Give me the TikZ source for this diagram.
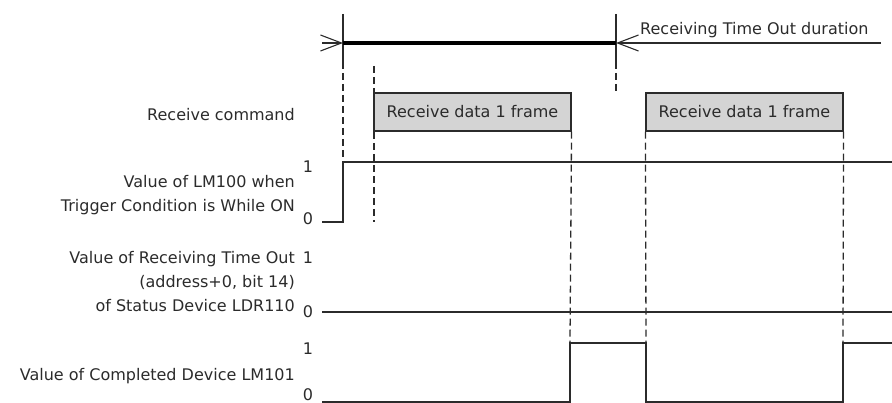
\documentclass[tikz,border=0pt]{standalone}
\usepackage{fontspec}
\setmainfont{DejaVu Sans}
\usetikzlibrary{arrows.meta,positioning}
\definecolor{inkgray}{HTML}{2B2B2B}
\definecolor{boxgray}{HTML}{D4D4D4}
\tikzset{
  td/text/.style={font=\fontsize{16}{24}\selectfont, text=inkgray},
  td/name/.style={td/text, anchor=east, align=right, inner sep=0pt},
  td/level/.style={td/text, inner sep=0pt},
  td/frame/.style={td/text, draw=inkgray, line width=1.1pt, fill=boxgray, minimum width=197pt, minimum height=38pt, inner sep=0pt},
  td/signal/.style={draw=inkgray, line width=2.8pt, line join=miter},
  td/flat/.style={draw=inkgray, line width=2.4pt},
  td/guide/.style={draw=inkgray, line width=1.3pt, dash pattern=on 7pt off 4pt},
  td/dim/.style={draw=inkgray, line width=1.1pt},
  td/tip/.style={-{Straight Barb[length=21pt, width=16pt, line width=1.1pt]}}
}
\begin{document}
\begin{tikzpicture}[x=1pt, y=-1pt]
  \useasboundingbox (0,0) rectangle (892,403);

  % receiving time out span
  \coordinate (start) at (343,43);
  \coordinate (limit) at (616,43);
  \draw[td/dim] (343,14) -- (343,62);
  \draw[td/dim] (616,14) -- (616,62);
  \draw[td/dim, td/tip] (322,43) -- (start);
  \draw[td/dim, td/tip] (881,43) -- (limit);
  \draw[draw=black, line width=4.8pt] (start) -- (limit);
  \node[td/text, anchor=south west, inner sep=0pt] (timeout) at (640,38) {Receiving Time Out duration};

  % receive command
  \node[td/name] (cmd) at (295,115) {Receive command};
  \node[td/frame] (frameA) at (472.5,112) {Receive data 1 frame};
  \node[td/frame] (frameB) at (744.5,112) {Receive data 1 frame};

  % signal names and levels
  \node[td/name] (lm100) at (295,195) {Value of LM100 when\\Trigger Condition is While ON};
  \node[td/level] (lm100hi) at (308,167) {1};
  \node[td/level] (lm100lo) at (308,219) {0};
  \node[td/name] (ldr110) at (295,282) {Value of Receiving Time Out\\(address+0, bit 14)\\of Status Device LDR110};
  \node[td/level] (ldr110hi) at (308,258) {1};
  \node[td/level] (ldr110lo) at (308,312) {0};
  \node[td/name] (lm101) at (295,376) {Value of Completed Device LM101};
  \node[td/level] (lm101hi) at (308,349) {1};
  \node[td/level] (lm101lo) at (308,395) {0};

  % guides
  \draw[td/guide] (343,62) -- (343,160);
  \draw[td/guide] (374,66) -- (374,222);
  \draw[td/guide] (616,62) -- (616,94);
  \draw[td/guide] (frameA.south east) -- (570,343);
  \draw[td/guide] (frameB.south west) -- (646,343);
  \draw[td/guide] (frameB.south east) -- (843,343);

  % waveforms
  \draw[td/signal] (322,222) -- (343,222) -- (343,162) -- (892,162);
  \draw[td/flat] (322,312) -- (892,312);
  \draw[td/signal] (322,402) -- (570,402) -- (570,343) -- (646,343)
    -- (646,402) -- (843,402) -- (843,343) -- (892,343);
\end{tikzpicture}
\end{document}
